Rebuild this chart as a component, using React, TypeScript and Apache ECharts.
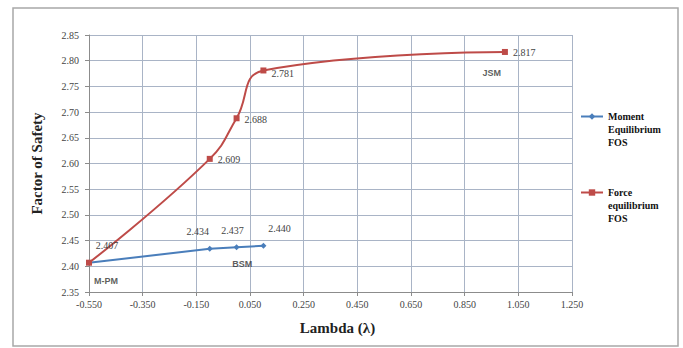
import React, { useEffect, useRef } from "react";
import * as echarts from "echarts";

const momentLambda = [-0.55, -0.1, 0.0, 0.1];
const momentFos = [2.407, 2.434, 2.437, 2.44];
const forceLambda = [-0.55, -0.1, 0.0, 0.1, 1.0];
const forceFos = [2.407, 2.609, 2.688, 2.781, 2.817];
const methodNames = ["M-PM", "BSM", "JSM"];
const methodLambda = [-0.487, 0.021, 0.951];
const methodFos = [2.371, 2.4045, 2.776];
const xTickStart = -0.55;

const SERIF = "Liberation Serif";

export default function App() {
  const ref = useRef<HTMLDivElement>(null);
  useEffect(() => {
    document.body.style.margin = "0";
    const chart = echarts.init(ref.current!, null, { renderer: "svg" });
    const sx = (v: number) => +(v - xTickStart).toFixed(4);
    chart.setOption({
      animation: false,
      backgroundColor: "#ffffff",
      textStyle: { fontFamily: SERIF },
      grid: { left: 89, right: 111, top: 35, bottom: 56 },
      graphic: [
        {
          type: "rect",
          shape: { x: 13, y: 8, width: 665, height: 338 },
          style: { fill: "none", stroke: "#a8a8a8", lineWidth: 1.5 },
          silent: true,
        },
      ],
      legend: {
        orient: "vertical",
        left: 580,
        top: 84,
        itemWidth: 22,
        itemHeight: 8,
        itemGap: 11,
        padding: 0,
        data: ["Moment Equilibrium FOS", "Force equilibrium FOS"],
        formatter: (n: string) =>
          n === "Moment Equilibrium FOS"
            ? "\n\nMoment\nEquilibrium\nFOS"
            : "\n\nForce\nequilibrium\nFOS",
        textStyle: {
          fontFamily: SERIF,
          fontWeight: "bold",
          fontSize: 10,
          lineHeight: 13,
          color: "#111",
        },
      },
      xAxis: {
        type: "value",
        min: 0,
        max: 1.8,
        interval: 0.2,
        name: "Lambda (λ)",
        nameLocation: "middle",
        nameGap: 28,
        nameTextStyle: {
          fontFamily: SERIF,
          fontWeight: "bold",
          fontSize: 15,
          color: "#222",
          padding: [0, 0, 0, 14],
        },
        axisLine: { lineStyle: { color: "#8c8c8c" } },
        axisTick: { show: true, length: 4, lineStyle: { color: "#8c8c8c" } },
        axisLabel: {
          formatter: (v: number) => (v + xTickStart).toFixed(3),
          fontFamily: SERIF,
          fontSize: 10,
          color: "#444",
          margin: 7,
        },
        splitLine: { show: true, lineStyle: { color: "#a9b4c6" } },
      },
      yAxis: {
        type: "value",
        min: 2.35,
        max: 2.85,
        interval: 0.05,
        name: "Factor of Safety",
        nameLocation: "middle",
        nameGap: 45,
        nameTextStyle: {
          fontFamily: SERIF,
          fontWeight: "bold",
          fontSize: 15,
          color: "#222",
        },
        axisLine: { show: true, lineStyle: { color: "#8c8c8c" } },
        axisTick: { show: true, length: 4, lineStyle: { color: "#8c8c8c" } },
        axisLabel: {
          formatter: (v: number) => v.toFixed(2),
          fontFamily: SERIF,
          fontSize: 10,
          color: "#444",
          margin: 10,
        },
        splitLine: { show: true, lineStyle: { color: "#a9b4c6" } },
      },
      series: [
        {
          name: "Moment Equilibrium FOS",
          type: "line",
          z: 3,
          color: "#4a7ebb",
          symbol: "diamond",
          symbolSize: 6,
          lineStyle: { width: 2, color: "#4a7ebb" },
          itemStyle: { color: "#4a7ebb" },
          data: momentLambda.map((x, i) => ({
            value: [sx(x), momentFos[i]],
            label: {
              show: i > 0,
              position: "top",
              offset: i === 3 ? [16, -4] : i === 1 ? [-12, -4] : [-4, -4],
            },
          })),
          label: {
            show: true,
            formatter: (p: any) => p.value[1].toFixed(3),
            fontFamily: SERIF,
            fontSize: 10,
            color: "#444",
          },
        },
        {
          name: "Force equilibrium FOS",
          type: "line",
          z: 4,
          smooth: 0.45,
          color: "#be4b48",
          symbol: "rect",
          symbolSize: 6,
          lineStyle: { width: 2, color: "#be4b48" },
          itemStyle: { color: "#be4b48" },
          data: forceLambda.map((x, i) => ({
            value: [sx(x), forceFos[i]],
            label: {
              show: true,
              position: i === 0 ? "top" : "right",
              offset: i === 0 ? [18, -4] : i === 3 ? [0, 3] : [0, 1],
            },
          })),
          label: {
            show: true,
            formatter: (p: any) => p.value[1].toFixed(3),
            fontFamily: SERIF,
            fontSize: 10,
            color: "#444",
          },
        },
        {
          name: "methods",
          type: "scatter",
          symbolSize: 0,
          silent: true,
          z: 5,
          data: methodNames.map((n, i) => ({ name: n, value: [sx(methodLambda[i]), methodFos[i]] })),
          label: {
            show: true,
            position: "inside",
            formatter: (p: any) => p.name,
            fontFamily: "Liberation Sans",
            fontWeight: "bold",
            fontSize: 9,
            color: "#333",
          },
        },
      ],
    });
    return () => chart.dispose();
  }, []);
  return (
    <div
      ref={ref}
      style={{ position: "fixed", left: 0, top: 0, width: 683, height: 348 }}
    />
  );
}
